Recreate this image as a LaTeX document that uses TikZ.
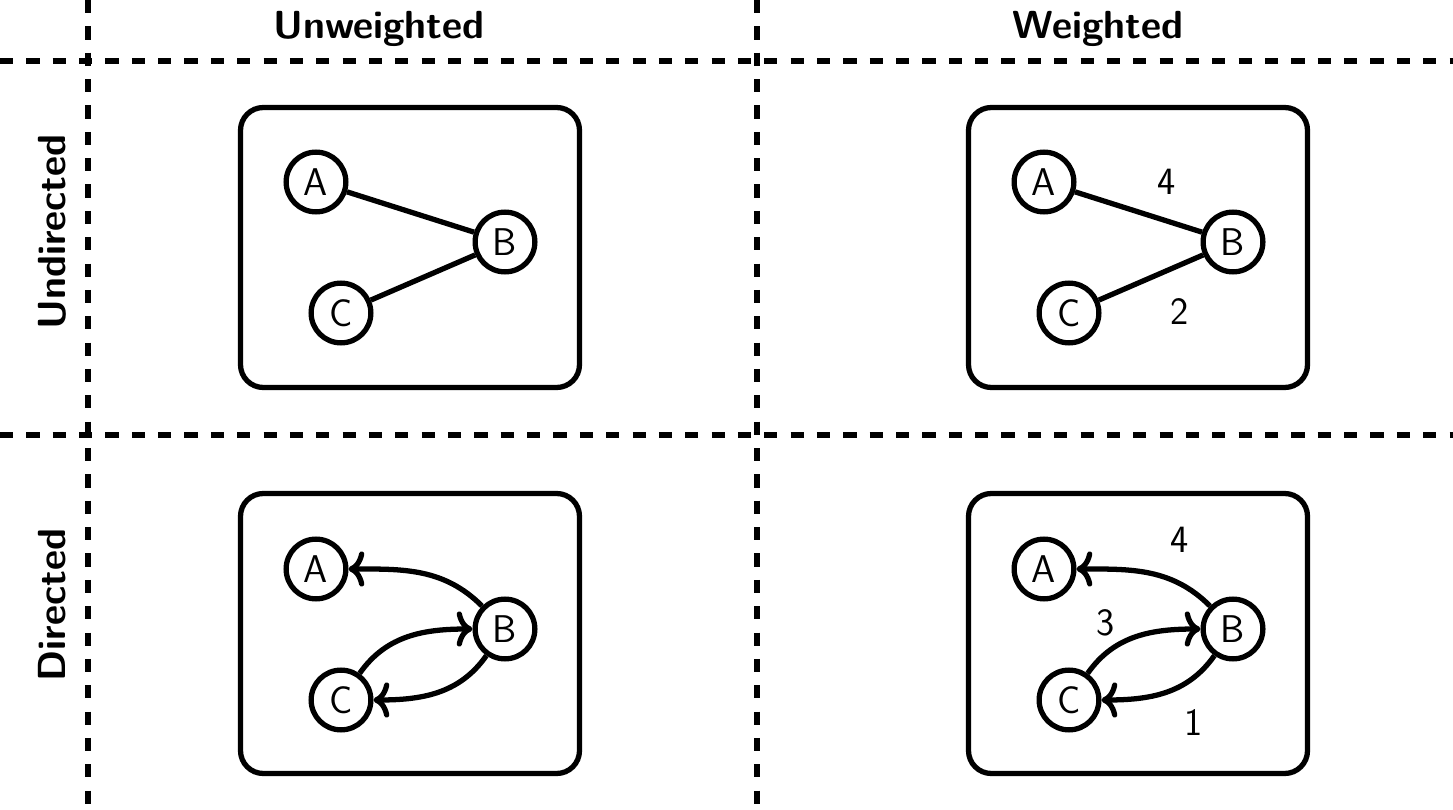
\documentclass[tikz,border=0pt]{standalone}
\usetikzlibrary{arrows.meta}
\begin{document}
\begin{tikzpicture}[x=0.02cm,y=-0.02cm,
  grid/.style={line width=3.4pt,dash pattern=on 7.5pt off 7.5pt},
  panel/.style={draw,line width=3pt,rounded corners=13pt},
  vtx/.style={circle,draw,line width=3pt,minimum size=34pt,inner sep=0pt,font=\sffamily\fontsize{22}{26}\selectfont},
  wlab/.style={font=\sffamily\fontsize{22}{26}\selectfont,inner sep=0pt},
  hdr/.style={font=\sffamily\bfseries\fontsize{22.3}{27}\selectfont,inner sep=0pt},
  edge/.style={line width=3pt},
  arr/.style={line width=3pt,-{Computer Modern Rightarrow[length=9pt,width=20pt,line cap=round]}}
]
\useasboundingbox (0,0) rectangle (1453,810);
% grid
\coordinate (v1t) at (88,0); \coordinate (v1b) at (88,810);
\coordinate (v2t) at (757,0); \coordinate (v2b) at (757,810);
\coordinate (h1l) at (0,61); \coordinate (h1r) at (1453,61);
\coordinate (h2l) at (0,435); \coordinate (h2r) at (1453,435);
\draw[grid] (v1t) -- (v1b);
\draw[grid] (v2t) -- (v2b);
\draw[grid] (h1l) -- (h1r);
\draw[grid] (h2l) -- (h2r);
% headers
\node[hdr] (hu) at (379,29) {Unweighted};
\node[hdr] (hw) at (1098,29) {Weighted};
\node[hdr,rotate=90] (hund) at (52,232) {Undirected};
\node[hdr,rotate=90] (hdir) at (52,605) {Directed};
% panels
\draw[panel] (240.5,107.5) rectangle (579.5,387.5);
\draw[panel] (968.5,107.5) rectangle (1307.5,387.5);
\draw[panel] (240.5,493.5) rectangle (579.5,773.5);
\draw[panel] (968.5,493.5) rectangle (1307.5,773.5);
% top-left: undirected unweighted
\node[vtx] (a1) at (316,182) {A};
\node[vtx] (b1) at (505,242) {B};
\node[vtx] (c1) at (341,313) {C};
\draw[edge] (a1) -- (b1);
\draw[edge] (c1) -- (b1);
% top-right: undirected weighted
\node[vtx] (a2) at (1044,182) {A};
\node[vtx] (b2) at (1233,242) {B};
\node[vtx] (c2) at (1069,313) {C};
\draw[edge] (a2) -- (b2);
\draw[edge] (c2) -- (b2);
\node[wlab] (w24) at (1167,182) {4};
\node[wlab] (w22) at (1180,312) {2};
% bottom-left: directed unweighted
\node[vtx] (a3) at (316,569) {A};
\node[vtx] (b3) at (505,629) {B};
\node[vtx] (c3) at (341,700) {C};
\draw[arr] (b3) to[out=135,in=0] (a3);
\draw[arr] (c3) to[out=55,in=180] (b3);
\draw[arr] (b3) to[out=235,in=0] (c3);
% bottom-right: directed weighted
\node[vtx] (a4) at (1044,569) {A};
\node[vtx] (b4) at (1233,629) {B};
\node[vtx] (c4) at (1069,700) {C};
\draw[arr] (b4) to[out=135,in=0] (a4);
\draw[arr] (c4) to[out=55,in=180] (b4);
\draw[arr] (b4) to[out=235,in=0] (c4);
\node[wlab] (w44) at (1180,540) {4};
\node[wlab] (w43) at (1106,623) {3};
\node[wlab] (w41) at (1194,723) {1};
\end{tikzpicture}
\end{document}
